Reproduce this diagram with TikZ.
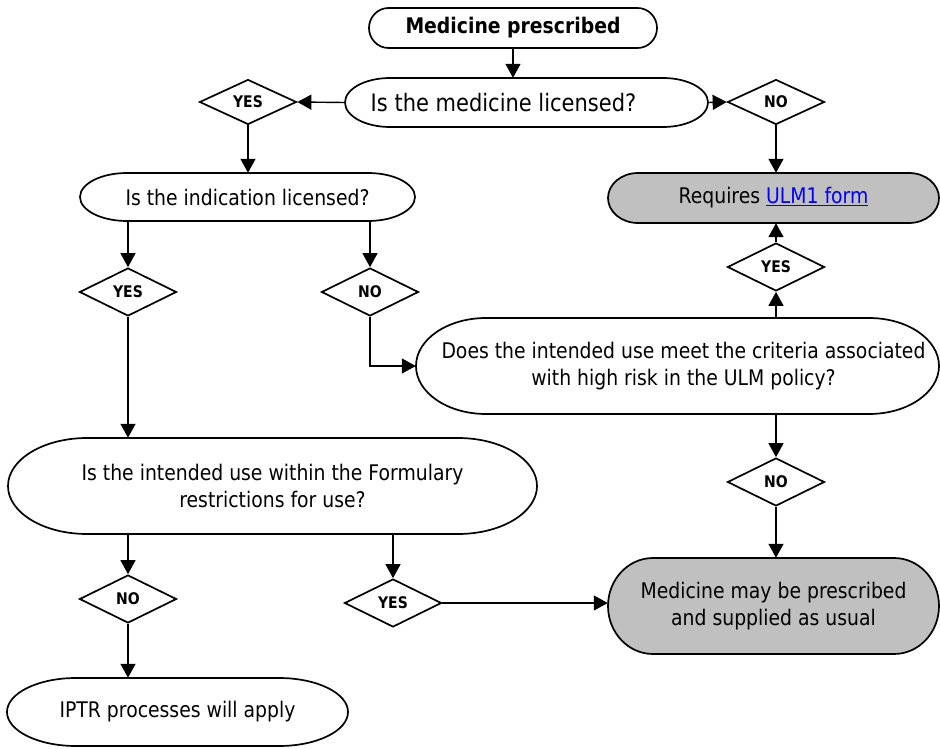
\documentclass[tikz,border=0pt]{standalone}
\usepackage{fontspec}
\setmainfont{DejaVu Sans}[FakeStretch=0.875]
\usetikzlibrary{shapes.geometric,arrows.meta,calc}
\definecolor{boxgray}{RGB}{192,192,192}
\definecolor{linkblue}{RGB}{0,0,255}
\tikzset{
  termline/.style={draw=black,line width=1.7pt},
  termtext/.style={inner sep=0pt,align=center,font=\fontsize{21.5}{27.5}\selectfont},
  answer/.style={diamond,draw=black,line width=1.7pt,fill=white,inner sep=0pt,
    minimum width=97pt,minimum height=48pt,font=\fontsize{16}{18}\selectfont\bfseries},
  flow/.style={line width=1.4pt,-{Triangle[length=14pt,width=15pt]}}
}
\newcommand\termnode[8]{%
  \path[termline,fill=#7] ({#2-#4/2+#6},{#3-#5/2}) -- ({#2+#4/2-#6},{#3-#5/2})
    arc[start angle=90,end angle=-90,x radius={#6*1pt},y radius={#5*0.5pt}]
    -- ({#2-#4/2+#6},{#3+#5/2})
    arc[start angle=270,end angle=90,x radius={#6*1pt},y radius={#5*0.5pt}] -- cycle;
  \node[termtext,minimum width={#4*1pt},minimum height={#5*1pt}] (#1) at (#2,#3) {#8};
}
\begin{document}
\begin{tikzpicture}[x=1pt,y=-1pt]
\useasboundingbox (0,0) rectangle (940,749);
% terminators / questions
\termnode{start}{513}{28}{288}{40}{19.5}{white}{\fontsize{21.5}{26}\selectfont\bfseries Medicine prescribed}
\termnode{licensed}{526.5}{102.5}{363}{49}{45}{white}{\fontsize{24}{28}\selectfont\hspace*{-46pt}Is the medicine licensed?}
\termnode{indication}{247.5}{197}{335}{48}{47}{white}{Is the indication licensed?}
\termnode{requires}{773.5}{198}{331}{50}{30}{boxgray}{Requires \textcolor{linkblue}{\underline{ULM1 form}}}
\termnode{highrisk}{677.5}{366}{523}{96}{70}{white}{\hspace*{12pt}Does the intended use meet the criteria associated\\\hspace*{12pt}with high risk in the ULM policy?}
\termnode{formulary}{272.5}{486}{529}{96}{79}{white}{Is the intended use within the Formulary\\restrictions for use?}
\termnode{medmay}{773.5}{606}{331}{96}{45}{boxgray}{Medicine may be prescribed\\and supplied as usual}
\termnode{iptr}{177.5}{712}{341}{68}{69}{white}{IPTR processes will apply}
% answers
\node[answer,minimum height=45pt] (yes1) at (248,102) {YES};
\node[answer,minimum height=45pt] (no1) at (776,102) {NO};
\node[answer] (yes2) at (128,292) {YES};
\node[answer] (no2) at (370,292) {NO};
\node[answer] (yes3) at (776,267) {YES};
\node[answer] (no3) at (776,482) {NO};
\node[answer] (no4) at (128,599) {NO};
\node[answer] (yes4) at (393,603) {YES};
% connectors
\draw[flow] (start.south) -- (start.south |- licensed.north);
\draw[flow] (licensed.west) -- (yes1.east);
\draw[flow] (licensed.east) -- (no1.west);
\draw[flow] (yes1.south) -- (yes1.south |- indication.north);
\draw[flow] (no1.south) -- (no1.south |- requires.north);
\draw[flow] (yes2.north |- indication.south) -- (yes2.north);
\draw[flow] (no2.north |- indication.south) -- (no2.north);
\draw[flow] (yes2.south) -- (yes2.south |- formulary.north);
\draw[flow] (no2.south) |- (highrisk.west);
\draw[flow] (yes3.south |- highrisk.north) -- (yes3.south);
\draw[flow] (yes3.north) -- (yes3.north |- requires.south);
\draw[flow] (no3.north |- highrisk.south) -- (no3.north);
\draw[flow] (no3.south) -- (no3.south |- medmay.north);
\draw[flow] (no4.north |- formulary.south) -- (no4.north);
\draw[flow] (yes4.north |- formulary.south) -- (yes4.north);
\draw[flow] (yes4.east) -- (yes4.east -| medmay.west);
\draw[flow] (no4.south) -- (no4.south |- iptr.north);
\end{tikzpicture}
\end{document}
